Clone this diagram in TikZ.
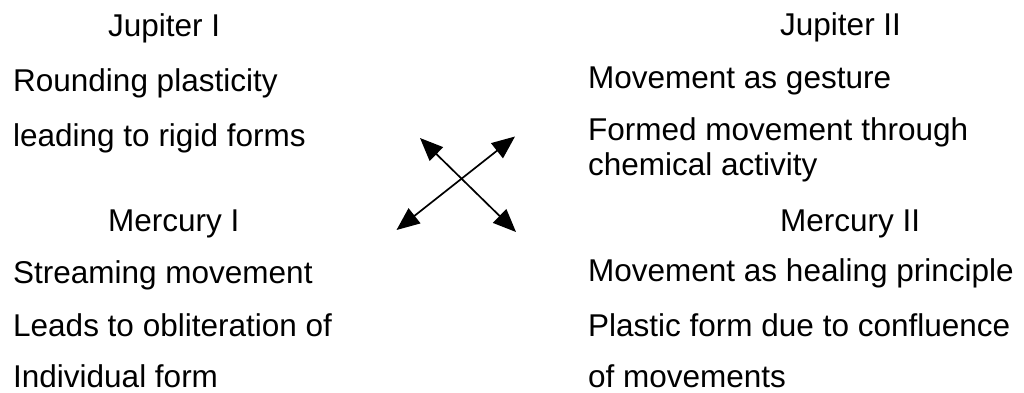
\documentclass[tikz,border=0pt]{standalone}
\usepackage{fontspec}
\setmainfont{Liberation Sans}
\usetikzlibrary{arrows.meta}
\begin{document}
\begin{tikzpicture}[x=1pt,y=-1pt,
  txt/.style={anchor=base west,inner sep=0pt,font=\fontsize{31.5}{37}\selectfont},
  dbl/.style={line width=1.7pt,{Triangle[length=23pt,width=19pt]}-{Triangle[length=23pt,width=19pt]}}]
\useasboundingbox (0,0) rectangle (1024,392);
% left column
\node[txt] (j1)  at (108,36)    {Jupiter I};
\node[txt] (j1a) at (13,91.5)   {Rounding plasticity};
\node[txt] (j1b) at (13,146.5)  {leading to rigid forms};
\node[txt] (m1)  at (108,231.5) {Mercury I};
\node[txt] (m1a) at (13,283.5)  {Streaming movement};
\node[txt] (m1b) at (13,336.5)  {Leads to obliteration of};
\node[txt] (m1c) at (13,387)    {Individual form};
% right column
\node[txt] (j2)  at (780,35)    {Jupiter II};
\node[txt] (j2a) at (588,88.5)  {Movement as gesture};
\node[txt] (j2b) at (588,140)   {Formed movement through};
\node[txt] (j2c) at (588,175)   {chemical activity};
\node[txt] (m2)  at (780,231.5) {Mercury II};
\node[txt] (m2a) at (588,281.5) {Movement as healing principle};
\node[txt] (m2b) at (588,336.5) {Plastic form due to confluence};
\node[txt] (m2c) at (588,387)   {of movements};
% crossing arrows
\coordinate (ll) at (396.5,230);
\coordinate (ur) at (515,136.5);
\coordinate (ul) at (420,138);
\coordinate (lr) at (516,232);
\draw[dbl] (ll) -- (ur);
\draw[dbl] (ul) -- (lr);
\end{tikzpicture}
\end{document}
